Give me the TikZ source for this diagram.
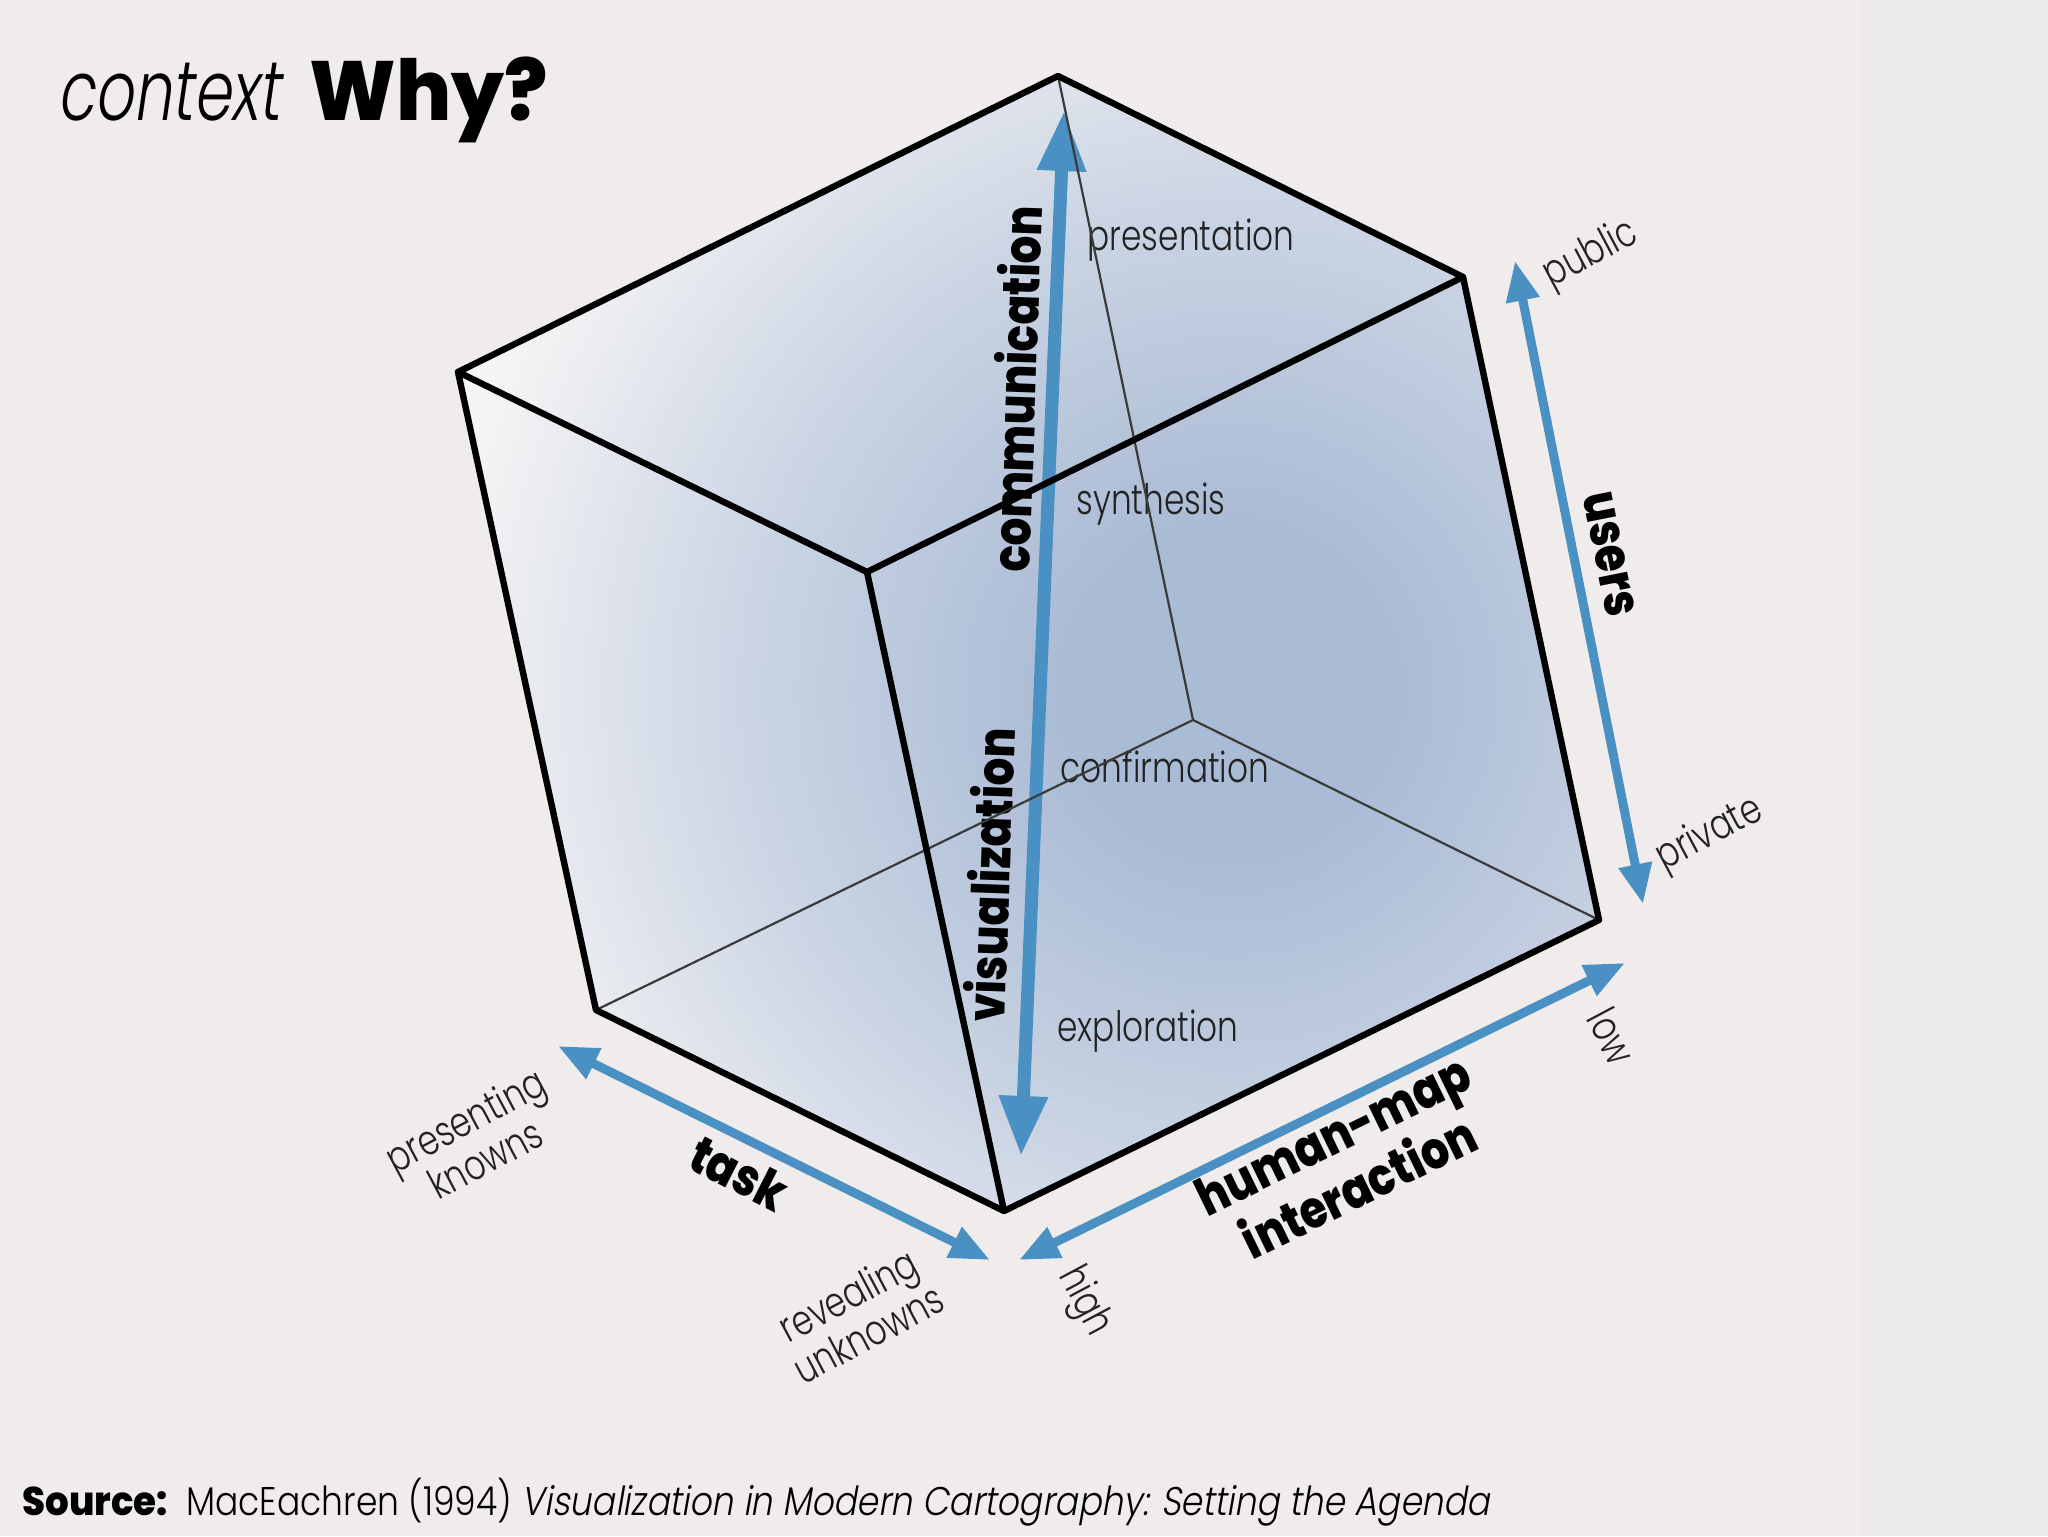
\documentclass[tikz,border=0pt]{standalone}
\usepackage{fontspec}
\usetikzlibrary{arrows.meta}
\setmainfont{Poppins}
\IfFontExistsTF{Poppins Light}{%
  \newfontfamily\lightfont{Poppins Light}%
  \newfontfamily\lightslfont{Poppins Light}[FakeSlant=0.2]}{%
  \newfontfamily\lightfont{Poppins}%
  \newfontfamily\lightslfont{Poppins}[FakeSlant=0.2]}
\IfFontExistsTF{Poppins ExtraBold}{%
  \newfontfamily\heavyfont{Poppins ExtraBold}}{%
  \newcommand\heavyfont{\bfseries}}
\definecolor{bgA}{HTML}{F0ECEB}
\definecolor{bgB}{HTML}{ECEBE9}
\definecolor{arrowblue}{HTML}{4A90C2}
\definecolor{cin}{HTML}{AABBD5}
\definecolor{cmid}{HTML}{CAD4E3}
\definecolor{cout}{HTML}{F6F5F5}
\definecolor{txt}{HTML}{222222}
\definecolor{hid}{HTML}{3A3A3A}
\pgfdeclareradialshading{cubeglow}{\pgfpointorigin}{color(0bp)=(cin); color(4bp)=(cin); color(12bp)=(cmid); color(20bp)=(cout); color(50bp)=(cout)}
\tikzset{
  edge/.style={draw=black, line width=3.2pt, line join=round, line cap=round},
  hidden/.style={draw=hid, line width=1.1pt},
  bigarrow/.style={draw=arrowblue, line width=6.5pt, {Triangle[length=30pt,width=23pt]}-{Triangle[length=30pt,width=23pt]}},
  axisarrow/.style={draw=arrowblue, line width=4.5pt, {Triangle[length=20pt,width=16pt]}-{Triangle[length=20pt,width=16pt]}},
  lab/.style={text=txt, inner sep=0pt, align=center, font=\lightfont\fontsize{21pt}{22pt}\selectfont, xscale=0.78},
  blab/.style={text=black, inner sep=0pt, align=center, font=\heavyfont\fontsize{26pt}{26pt}\selectfont, xscale=0.84},
}
\begin{document}
\begin{tikzpicture}[x=0.5pt,y=-0.5pt]
\useasboundingbox (0,0) rectangle (2048,1536);
\fill[bgA] (0,0) rectangle (1860,1536);
\fill[bgB] (1860,0) rectangle (2048,1536);
% cube vertices
\coordinate (cT) at (1058,76);
\coordinate (cTR) at (1463,277);
\coordinate (cTL) at (458,372);
\coordinate (cF) at (867,572);
\coordinate (cBR) at (1599,920);
\coordinate (cBL) at (596,1010);
\coordinate (cB) at (1004,1211);
\coordinate (cH) at (1193,720);
% shading
\begin{scope}
\clip (cT) -- (cTR) -- (cBR) -- (cB) -- (cBL) -- (cTL) -- cycle;
\shade[shading=cubeglow] (1230,690) circle (1000);
\end{scope}
% arrow end points
\coordinate (vtop) at (1064,111);
\coordinate (vbot) at (1021,1156);
\coordinate (utop) at (1515,261);
\coordinate (ubot) at (1643,904);
\coordinate (tkl) at (558,1046);
\coordinate (tkr) at (990,1260);
\coordinate (hmr) at (1625,963);
\coordinate (hml) at (1019,1260);
\draw[bigarrow] (vbot) -- (vtop);
\draw[axisarrow] (ubot) -- (utop);
\draw[axisarrow] (tkl) -- (tkr);
\draw[axisarrow] (hml) -- (hmr);
% labels
\node[lab] (pres) at (1191,240) {presentation};
\node[lab] (synth) at (1151,504) {synthesis};
\node[lab] (conf) at (1165,767) {confirmation};
\node[lab] (expl) at (1148,1031) {exploration};
\node[rotate=88, blab] (comm) at (1015,389) {communication};
\node[rotate=88, blab] (visu) at (989,875) {visualization};
\node[rotate=-78.7, blab] (users) at (1609,554) {users};
\node[rotate=28, lab] (public) at (1591,255) {public};
\node[rotate=28, lab] (private) at (1710,835) {private};
\node[rotate=-27, blab] (task) at (739,1173) {task};
\node[rotate=28, lab] (pk) at (475,1139) {presenting\\knowns};
\node[rotate=28, lab] (ru) at (858,1314) {revealing\\unknowns};
\node[rotate=26, blab] (hmi) at (1346,1161) {human-map\\interaction};
\node[rotate=-62, lab] (high) at (1084,1302) {high};
\node[rotate=-62, lab] (low) at (1612,1036) {low};
% hidden edges
\draw[hidden] (cH) -- (cT);
\draw[hidden] (cH) -- (cBR);
\draw[hidden] (cH) -- (cBL);
% visible edges
\draw[edge] (cT) -- (cTR) -- (cBR) -- (cB) -- (cBL) -- (cTL) -- cycle;
\draw[edge] (cTL) -- (cF) -- (cTR);
\draw[edge] (cF) -- (cB);
% title
\node[anchor=base west, inner sep=0pt, xscale=0.72, font=\lightslfont\fontsize{42pt}{42pt}\selectfont] (ctx) at (57,120) {context};
\node[anchor=base west, inner sep=0pt, xscale=0.96, font=\heavyfont\fontsize{42pt}{42pt}\selectfont] (why) at (309,120) {Why?};
% source
\node[anchor=base west, inner sep=0pt, xscale=0.93, font=\heavyfont\fontsize{20pt}{20pt}\selectfont] (srclab) at (22,1515) {Source:};
\node[anchor=base west, inner sep=0pt, xscale=0.863, font=\lightfont\fontsize{20pt}{20pt}\selectfont] (srctxt) at (186,1515) {MacEachren (1994) {\lightslfont Visualization in Modern Cartography: Setting the Agenda}};
\end{tikzpicture}
\end{document}
